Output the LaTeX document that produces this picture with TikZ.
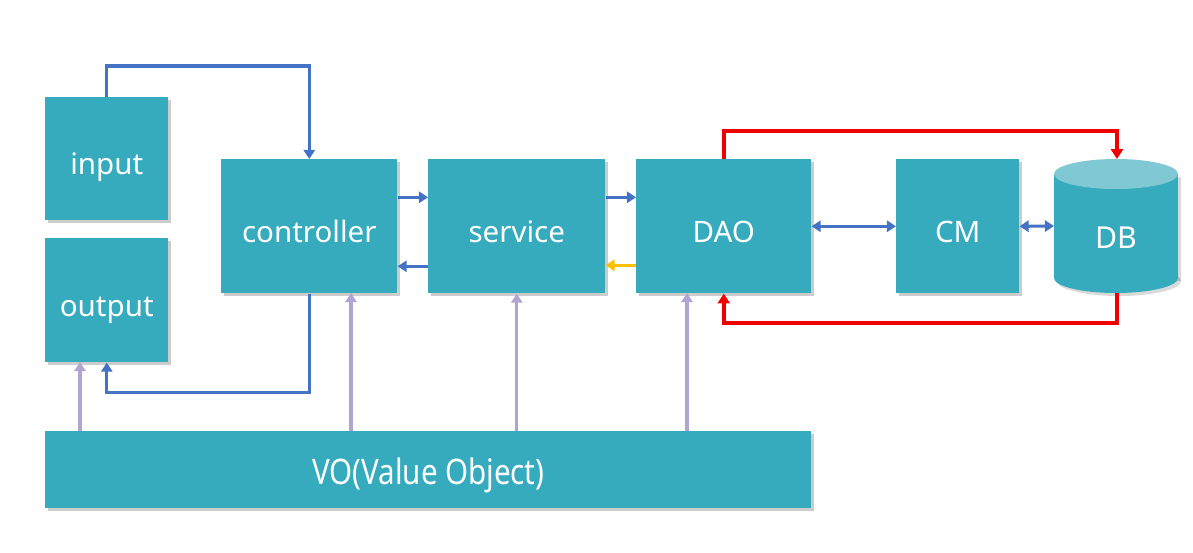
\documentclass[tikz,border=0pt]{standalone}
\usepackage{fontspec}
\setmainfont{Noto Sans}
\usetikzlibrary{arrows.meta,calc,shadows}
\definecolor{teal}{RGB}{53,171,189}
\definecolor{tealtop}{RGB}{128,201,212}
\definecolor{ablue}{RGB}{68,114,196}
\definecolor{apurple}{RGB}{178,164,208}
\definecolor{ared}{RGB}{240,0,0}
\definecolor{ayellow}{RGB}{255,192,0}
\begin{document}
\begin{tikzpicture}[x=0.025cm,y=-0.025cm,
  box/.style={fill=teal,draw=none,text=white,inner sep=0pt,anchor=north west,
    font=\fontsize{21pt}{24pt}\selectfont,text height=22.8pt,text depth=0pt,
    drop shadow={shadow xshift=1.6pt,shadow yshift=-1.6pt,fill=black,opacity=0.2}},
  bl/.style={draw=ablue,line width=2.2pt,-{Triangle[length=6.5pt,width=8pt]}},
  bld/.style={draw=ablue,line width=2.2pt,{Triangle[length=6.5pt,width=8pt]}-{Triangle[length=6.5pt,width=8pt]}},
  ye/.style={draw=ayellow,line width=2.2pt,-{Triangle[length=6.5pt,width=8pt]}},
  pu/.style={draw=apurple,line width=2.2pt,-{Triangle[length=6.5pt,width=8pt]}},
  rd/.style={draw=ared,line width=2.6pt,-{Triangle[length=7pt,width=8.5pt]}}
]
\useasboundingbox (0,0) rectangle (1193,553);
\fill[white] (0,0) rectangle (1193,553);

\node[box,minimum width=123*0.025cm,minimum height=123*0.025cm] (input) at (45,97) {input};
\node[box,minimum width=123*0.025cm,minimum height=124*0.025cm] (output) at (45,238) {output};
\node[box,minimum width=176*0.025cm,minimum height=134*0.025cm] (controller) at (221,159) {controller};
\node[box,minimum width=177*0.025cm,minimum height=134*0.025cm] (service) at (428,159) {service};
\node[box,minimum width=175*0.025cm,minimum height=134*0.025cm] (dao) at (636,159) {DAO};
\node[box,minimum width=123*0.025cm,minimum height=134*0.025cm] (cm) at (896,159) {CM};
\node[box,minimum width=766*0.025cm,minimum height=77*0.025cm,
  font=\fontsize{25pt}{28pt}\selectfont,text height=20.6pt] (vo) at (45,431) {\scalebox{0.84}[1]{VO(Value Object)}};

% DB cylinder
\fill[black,opacity=0.15] (1057,177) rectangle (1181,281);
\fill[black,opacity=0.15] (1119,281) ellipse (62 and 15);
\fill[teal] (1054,174) rectangle (1178,278);
\fill[teal] (1116,278) ellipse (62 and 15);
\fill[tealtop] (1116,174) ellipse (62 and 15);
\node[text=white,font=\fontsize{21.5pt}{24pt}\selectfont,inner sep=0pt] (db) at (1116,238) {DB};
\coordinate (dbtop) at (1117,159);
\coordinate (dbbot) at (1117,293);
\coordinate (dbw) at (1054,226);

% blue flows
\draw[bl] (input.north) -- ++(0,-31) -| (controller.north);
\draw[bl] (controller.south) -- ++(0,99) -| (output.south);
\draw[bl] ($(controller.east)+(0,-29)$) -- ($(service.west)+(0,-29)$);
\draw[bl] ($(service.west)+(0,40)$) -- ($(controller.east)+(0,40)$);
\draw[bl] ($(service.east)+(0,-29)$) -- ($(dao.west)+(0,-29)$);
\draw[ye] ($(dao.west)+(0,39)$) -- ($(service.east)+(0,39)$);
\draw[bld] (dao.east) -- (cm.west);
\draw[bld] (cm.east) -- (dbw);

% red flows
\draw[rd] (dao.north) -- ++(0,-28) -| (dbtop);
\draw[rd] (dbbot) -- ++(0,30) -| (dao.south);

% purple flows
\coordinate (p1) at (80,362);
\coordinate (p2) at (351,293);
\coordinate (p4) at (687,293);
\draw[pu] (vo.north -| p1) -- (p1);
\draw[pu] (vo.north -| p2) -- (p2);
\draw[pu] (vo.north -| service.south) -- (service.south);
\draw[pu] (vo.north -| p4) -- (p4);
\end{tikzpicture}
\end{document}
